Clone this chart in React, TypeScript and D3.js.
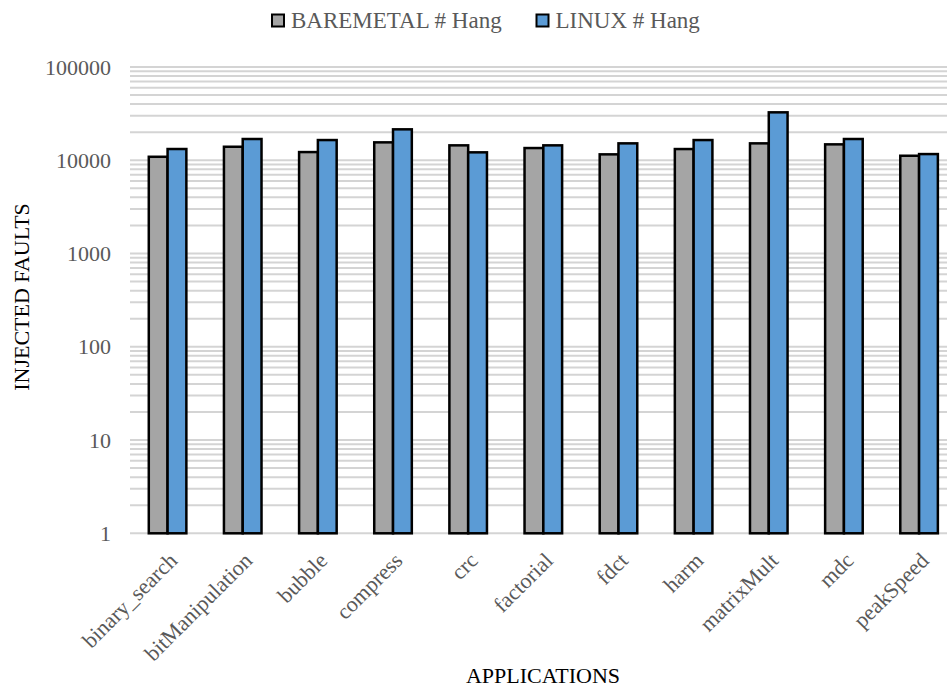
import React from "react";
import * as d3 from "d3";

const categories = ["binary_search","bitManipulation","bubble","compress","crc","factorial","fdct","harm","matrixMult","mdc","peakSpeed"];
const baremetal = [10900,13960,12240,15560,14450,13520,11570,13190,15180,14810,11180];
const linux = [13200,16900,16470,21460,12160,14450,15180,16470,32650,16900,11650];
const seriesNames = ["BAREMETAL # Hang","LINUX # Hang"];
const seriesColors = ["#a5a5a5","#5b9bd5"];
const yTicks = [1,10,100,1000,10000,100000];

const W = 947, H = 687;
const left = 130, top = 67, bottom = 533.3;
const step = 75.15;
const right = left + step * categories.length;
const font = "'Liberation Serif','Times New Roman',serif";

export default function App() {
  const x = d3.scaleBand<string>().domain(categories).range([left, right]).paddingInner(0.5).paddingOuter(0.25);
  const x1 = d3.scaleBand<number>().domain([0,1]).range([0, x.bandwidth()]);
  const y = d3.scaleLog().domain([1,100000]).range([bottom, top]);
  const grid: number[] = [];
  for (let d = 1; d < 100000; d *= 10) for (let k = 2; k <= 9; k++) grid.push(d*k);
  const series = [baremetal, linux];
  return (
    <svg width={W} height={H} style={{position:"absolute",left:0,top:0,background:"#fff"}} fontFamily={font}>
      {grid.map((g,i)=>(<line key={"g"+i} x1={left} x2={W} y1={y(g)} y2={y(g)} stroke="#d4d4d4" strokeWidth={2}/>))}
      {yTicks.map((t,i)=>(<line key={"t"+i} x1={left} x2={W} y1={y(t)} y2={y(t)} stroke="#d4d4d4" strokeWidth={2}/>))}
      {yTicks.map((t,i)=>(<text key={"l"+i} x={111} y={y(t)} dy="0.35em" textAnchor="end" fontSize={22} fill="#595959">{t}</text>))}
      {categories.map((c,ci)=>series.map((s,si)=>(
        <rect key={c+si} x={(x(c) as number)+(x1(si) as number)} y={y(s[ci])} width={x1.bandwidth()} height={bottom-y(s[ci])} fill={seriesColors[si]} stroke="#000" strokeWidth={2.5}/>
      )))}
      {categories.map((c)=>{
        const cx = (x(c) as number) + x.bandwidth()/2;
        const cy = 551;
        return <text key={"c"+c} transform={`translate(${cx},${cy}) rotate(-45)`} textAnchor="end" dy="0.7em" fontSize={22} fill="#595959">{c}</text>;
      })}
      <text transform={`translate(29,297) rotate(-90)`} textAnchor="middle" fontSize={22} fill="#000">INJECTED FAULTS</text>
      <text x={543} y={683} textAnchor="middle" fontSize={22} fill="#000">APPLICATIONS</text>
      {seriesNames.map((n,i)=>{
        const lx = i===0 ? 272 : 536.5;
        return <g key={n}>
          <rect x={lx} y={14.5} width={12} height={12} fill={seriesColors[i]} stroke="#000" strokeWidth={2}/>
          <text x={lx+19} y={28} fontSize={23} fill="#595959">{n}</text>
        </g>;
      })}
    </svg>
  );
}
